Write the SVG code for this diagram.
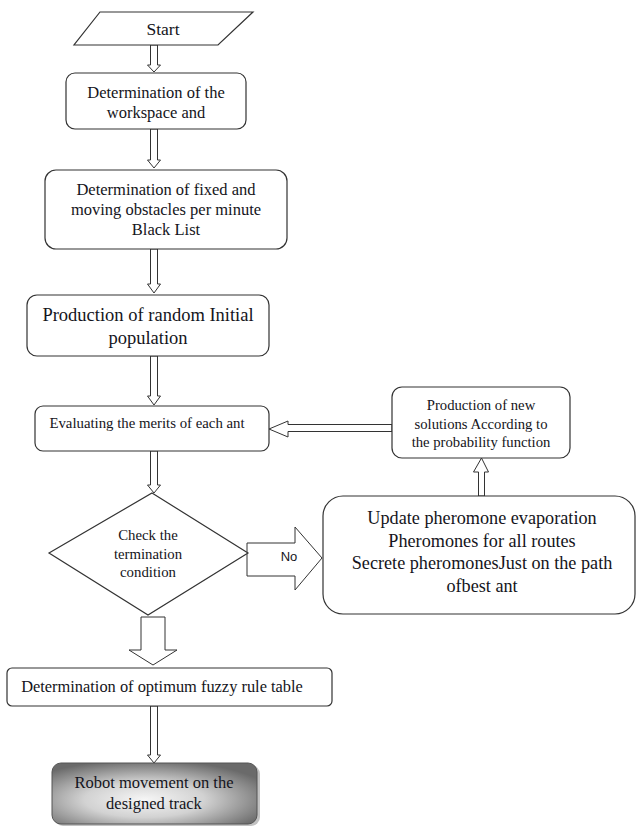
<svg xmlns="http://www.w3.org/2000/svg" width="636" height="827" viewBox="0 0 636 827">
<defs>
<radialGradient id="g" cx="0.45" cy="0.6" r="0.65">
<stop offset="0" stop-color="#f6f6f6"/>
<stop offset="0.45" stop-color="#d2d2d2"/>
<stop offset="1" stop-color="#6a6a6a"/>
</radialGradient>
<style>
.box{fill:#fff;stroke:#333;stroke-width:1.2}
.arr{fill:#fff;stroke:#333;stroke-width:1}
.t{font-family:'Liberation Serif','Times New Roman',serif;fill:#141420;text-anchor:middle}
.s{font-family:'Liberation Sans',Arial,sans-serif;fill:#141420;text-anchor:middle}
</style>
</defs>
<rect width="636" height="827" fill="#fff"/>
<g id="connectors">
<path class="arr" d="M150.5,45 H157.5 V65 H160.5 L154,72 L147.5,65 H150.5 Z"/>
<path class="arr" d="M150.5,129 H157.5 V160 H160.5 L154,168 L147.5,160 H150.5 Z"/>
<path class="arr" d="M150.5,249 H157.5 V284 H160.5 L154,293 L147.5,284 H150.5 Z"/>
<path class="arr" d="M150.5,356 H157.5 V396 H160.5 L154,405 L147.5,396 H150.5 Z"/>
<path class="arr" d="M150.5,451 H157.5 V485 H160.5 L154,493 L147.5,485 H150.5 Z"/>
<path class="arr" d="M392,424.5 V431.5 H288 V437 L269,429 L288,421 V424.5 Z"/>
<path class="arr" d="M478.5,496 V472 H473.5 L481.5,458 L488.5,472 H484.5 V496 Z"/>
<path class="arr" d="M247,543 H295 V527 L322,558 L295,590 V576 H247 Z"/>
<path class="arr" d="M141,617 H165 V650 H177 L153,665 L129,650 H141 Z"/>
<path class="arr" d="M150.5,706 H157.5 V755 H160.5 L154,763 L147.5,755 H150.5 Z"/>
<text class="s" x="289" y="561" font-size="13">No</text>
</g>
<g id="start">
<polygon class="box" points="100,12 253,12 218,45 74,45"/>
<text class="t" x="163" y="35" font-size="17.5">Start</text>
</g>
<g id="workspace">
<rect class="box" x="66" y="73" width="180" height="56" rx="9"/>
<text class="t" x="156" y="98" font-size="16.5">Determination of the</text>
<text class="t" x="156" y="118" font-size="16.5">workspace and</text>
</g>
<g id="obstacles">
<rect class="box" x="45" y="170" width="242" height="79" rx="11"/>
<text class="t" x="166" y="195" font-size="16.5">Determination of fixed and</text>
<text class="t" x="166" y="215" font-size="16.5">moving obstacles per minute</text>
<text class="t" x="166" y="235" font-size="16.5">Black List</text>
</g>
<g id="population">
<rect class="box" x="27" y="295" width="242" height="61" rx="10"/>
<text class="t" x="148" y="321" font-size="18.5">Production of random Initial</text>
<text class="t" x="148" y="344" font-size="18.5">population</text>
</g>
<g id="evaluate">
<rect class="box" x="35" y="406" width="234" height="45" rx="8"/>
<text class="t" x="147" y="428" font-size="14.8">Evaluating the merits of each ant</text>
</g>
<g id="check">
<polygon class="box" points="152,493 248,553 148,615 49,553"/>
<text class="t" x="148" y="540" font-size="14.8">Check the</text>
<text class="t" x="148" y="559" font-size="14.8">termination</text>
<text class="t" x="148" y="577" font-size="14.8">condition</text>
</g>
<g id="update">
<rect class="box" x="323" y="496" width="312" height="118" rx="20"/>
<text class="t" x="482" y="524" font-size="18.2">Update pheromone evaporation</text>
<text class="t" x="482" y="547" font-size="18.2">Pheromones for all routes</text>
<text class="t" x="482" y="569" font-size="18.2">Secrete pheromonesJust on the path</text>
<text class="t" x="482" y="592" font-size="18.2">ofbest ant</text>
</g>
<g id="newsolutions">
<rect class="box" x="392" y="387" width="178" height="71" rx="10"/>
<text class="t" x="481" y="410" font-size="14.7">Production of new</text>
<text class="t" x="481" y="429" font-size="14.7">solutions According to</text>
<text class="t" x="481" y="447" font-size="14.7">the probability function</text>
</g>
<g id="fuzzy">
<rect class="box" x="7" y="668" width="325" height="38" rx="5"/>
<text class="t" x="162" y="692" font-size="16.4">Determination of optimum fuzzy rule table</text>
</g>
<g id="robot">
<rect x="54" y="765" width="206" height="61" rx="9" fill="#9a9a9a" opacity="0.6"/>
<rect x="52" y="763" width="205" height="61" rx="9" fill="url(#g)" stroke="#555" stroke-width="1"/>
<text class="t" x="154" y="788" font-size="16.5">Robot movement on the</text>
<text class="t" x="154" y="809" font-size="16.5">designed track</text>
</g>
</svg>
